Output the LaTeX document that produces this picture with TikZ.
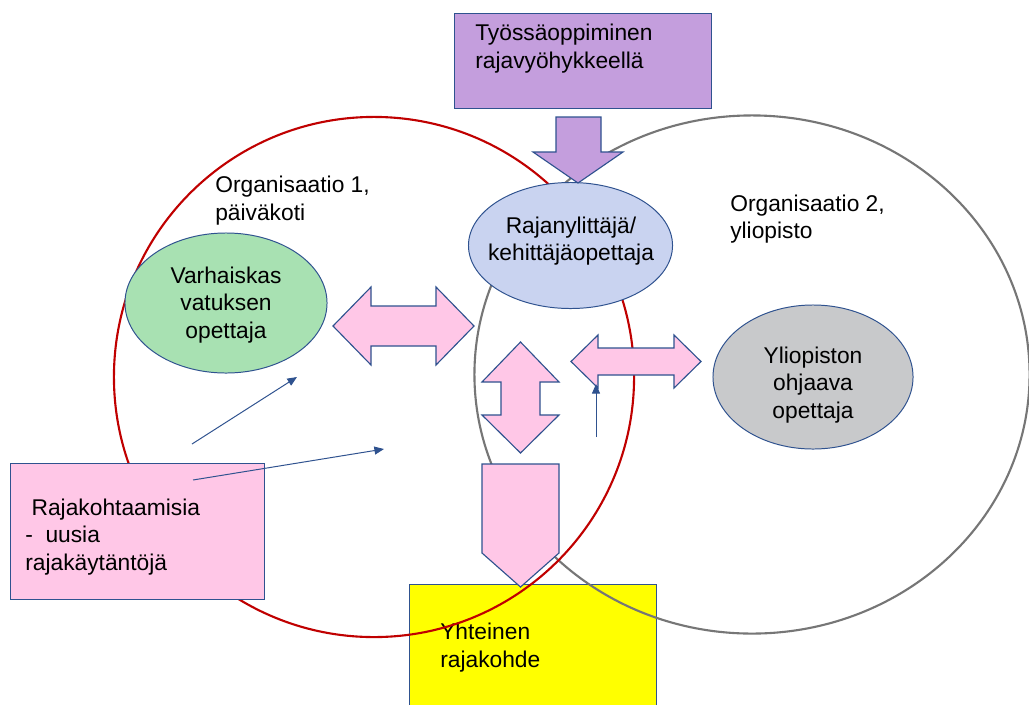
\documentclass[tikz,border=0pt]{standalone}
\usepackage{fontspec}
\setmainfont{Liberation Sans}
\usetikzlibrary{arrows.meta,shapes.geometric}
\definecolor{ink}{RGB}{47,82,143}
\definecolor{orgred}{RGB}{192,0,0}
\definecolor{orggray}{RGB}{118,118,118}
\definecolor{lilac}{RGB}{196,158,221}
\definecolor{rose}{RGB}{255,199,231}
\definecolor{mint}{RGB}{168,225,178}
\definecolor{sky}{RGB}{201,211,240}
\definecolor{stone}{RGB}{200,201,203}
\definecolor{lemon}{RGB}{255,255,0}
\tikzset{
  orgCircle/.style={line width=1.5pt},
  roleEllipse/.style={ellipse, draw=ink, line width=0.7pt, inner sep=0pt},
  roleText/.style={align=center, inner sep=0pt},
  boxNode/.style={rectangle, draw=ink, line width=0.9pt, inner sep=0pt, anchor=north west},
  textLabel/.style={align=left, anchor=base west, inner sep=0pt},
  blockArrow/.style={draw=ink, line width=0.8pt, fill=rose, line join=miter},
  thinArrow/.style={-{Triangle[length=2.4mm,width=2mm]}, draw=ink, line width=0.7pt}
}

\begin{document}
\begin{tikzpicture}[x=0.025cm, y=-0.025cm, font=\fontsize{16.2}{19.5}\selectfont]

% Canvas
\useasboundingbox (0,0) rectangle (1029,704);
\fill[white] (0,0) rectangle (1029,704);

% Shared object (under the circles)
\node[boxNode, fill=lemon, minimum width=6.175cm, minimum height=3.2cm] (common) at (409,584) {};
\node[textLabel] (commonText) at (440,667) {Yhteinen\\rajakohde};

% Organisations
\draw[orgCircle, draw=orggray] (752,374.5) ellipse [x radius=6.9375cm, y radius=6.475cm];
\draw[orgCircle, draw=orgred] (374,377) circle [radius=6.5cm];

\node[textLabel] (org1) at (215,220) {Organisaatio 1,\\päiväkoti};
\node[textLabel] (org2) at (730,238.5) {Organisaatio 2,\\yliopisto};

% Actors
\node[roleEllipse, fill=mint, minimum width=5.05cm, minimum height=3.5cm] (ecTeacher) at (226,303) {};
\node[roleText] (ecTeacherText) at (226,305) {Varhaiskas\\vatuksen\\opettaja};

\node[roleEllipse, fill=sky, minimum width=5.1cm, minimum height=3.15cm] (crosser) at (570.5,245.5) {};
\node[roleText] (crosserText) at (571,241) {Rajanylittäjä/\\kehittäjäopettaja};

\node[roleEllipse, fill=stone, minimum width=5.0cm, minimum height=3.6cm] (uniTeacher) at (813,377) {};
\node[roleText] (uniTeacherText) at (813,385) {Yliopiston\\ohjaava\\opettaja};

% Workplace learning
\node[boxNode, fill=lilac, minimum width=6.425cm, minimum height=2.375cm] (work) at (454,13) {};
\node[textLabel] (workText) at (475,68) {Työssäoppiminen\\rajavyöhykkeellä};
\draw[blockArrow, fill=lilac] (556,117) -- (601,117) -- (601,152) -- (623,152) -- (578,183)
  -- (533,152) -- (556,152) -- cycle;

% Block arrows
\draw[blockArrow] (333,326) -- (371,287) -- (371,306) -- (436,306) -- (436,287) -- (474,326)
  -- (436,365) -- (436,346) -- (371,346) -- (371,365) -- cycle;
\draw[blockArrow] (520.5,342) -- (559,382) -- (540,382) -- (540,415) -- (559,415) -- (520.5,453)
  -- (482,415) -- (501,415) -- (501,382) -- (482,382) -- cycle;
\draw[blockArrow] (571,361.5) -- (598,335) -- (598,348) -- (674,348) -- (674,335) -- (701,361.5)
  -- (674,388) -- (674,375) -- (598,375) -- (598,388) -- cycle;
\draw[blockArrow] (482,464) -- (559,464) -- (559,553) -- (520.5,587) -- (482,553) -- cycle;

% Boundary encounters
\node[boxNode, fill=rose, minimum width=6.35cm, minimum height=3.4cm] (encounter) at (10,463) {};
\node[textLabel] (encounterText) at (25,570) {\ Rajakohtaamisia\\-\ \ uusia\\rajakäytäntöjä};

% Thin arrows
\coordinate (t1a) at (192,444);
\coordinate (t1b) at (297,377);
\coordinate (t2a) at (193,480);
\coordinate (t2b) at (384,449);
\coordinate (t3a) at (596,437);
\coordinate (t3b) at (596,384);
\draw[thinArrow] (t1a) -- (t1b);
\draw[thinArrow] (t2a) -- (t2b);
\draw[thinArrow] (t3a) -- (t3b);

\end{tikzpicture}
\end{document}
